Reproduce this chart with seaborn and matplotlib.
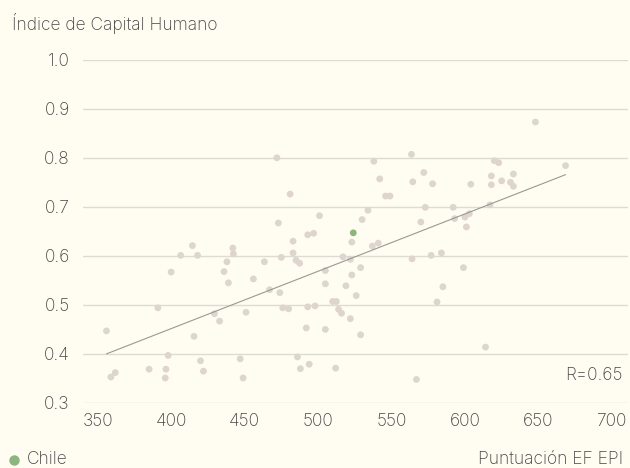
import numpy as np
import pandas as pd
import matplotlib
matplotlib.use("Agg")
import matplotlib.pyplot as plt
from matplotlib.lines import Line2D
import seaborn as sns

# Data (Puntuación EF EPI, Índice de Capital Humano)
epi = [472, 481, 473, 501, 493, 497, 483, 414.5, 442, 406.5,
       418, 442.4, 475, 483, 485, 648, 668.5, 563.6, 538, 620,
       623, 572, 633, 618, 542, 564.5, 578, 604, 618, 625,
       631, 633, 546, 549, 534, 573, 592, 617, 530, 570,
       593, 600, 603, 601, 523, 537, 541, 517, 522, 564,
       577, 584, 356, 359, 362, 385, 391, 396.5, 396, 398,
       400, 415.6, 420, 422, 429.5, 433, 436, 438, 439, 447,
       449, 451, 456, 463.5, 467, 474, 476, 480, 487.5, 486,
       488, 492, 493, 494, 498, 505, 505, 505, 510, 512.5,
       514, 512, 516, 522, 529, 523, 519, 526, 529, 599,
       585, 581, 614, 567]
hci = [0.800, 0.726, 0.667, 0.682, 0.643, 0.646, 0.630, 0.621, 0.616, 0.601,
       0.601, 0.604, 0.597, 0.606, 0.591, 0.873, 0.784, 0.807, 0.793, 0.794,
       0.790, 0.770, 0.767, 0.763, 0.757, 0.751, 0.747, 0.746, 0.745, 0.753,
       0.750, 0.742, 0.722, 0.722, 0.693, 0.699, 0.699, 0.704, 0.674, 0.669,
       0.676, 0.679, 0.686, 0.659, 0.628, 0.620, 0.626, 0.598, 0.593, 0.594,
       0.601, 0.606, 0.447, 0.353, 0.362, 0.369, 0.494, 0.369, 0.351, 0.397,
       0.567, 0.436, 0.386, 0.365, 0.482, 0.467, 0.568, 0.588, 0.545, 0.390,
       0.351, 0.485, 0.553, 0.588, 0.531, 0.525, 0.494, 0.492, 0.585, 0.394,
       0.370, 0.453, 0.496, 0.379, 0.498, 0.450, 0.570, 0.543, 0.507, 0.507,
       0.491, 0.371, 0.483, 0.472, 0.576, 0.561, 0.539, 0.519, 0.439, 0.576,
       0.537, 0.506, 0.414, 0.348]
chile_epi = [524]
chile_hci = [0.647]
chile_label = "Chile"
x_ticks = [350, 400, 450, 500, 550, 600, 650, 700]
y_ticks = [0.3, 0.4, 0.5, 0.6, 0.7, 0.8, 0.9, 1.0]
r_label = "R=0.65"
y_title = "Índice de Capital Humano"
x_title = "Puntuación EF EPI"

BG = "#FFFDF2"
PT = "#DDD5CE"
GREEN = "#8DB67E"
TXT = "#444444"
GRID = "#DEDBD2"
FS = 12.5

sns.set_theme(style="white")
plt.rcParams['font.family'] = ['Inter', 'DejaVu Sans']
plt.rcParams['font.weight'] = 'light'

df = pd.DataFrame({"epi": epi + chile_epi, "hci": hci + chile_hci})
others = pd.DataFrame({"epi": epi, "hci": hci})
chile = pd.DataFrame({"epi": chile_epi, "hci": chile_hci})

fig = plt.figure(figsize=(6.3, 4.68), dpi=100, facecolor=BG)
ax = fig.add_axes([0.1317, 0.1389, 0.8651, 0.7335])
ax.set_facecolor(BG)

for yv in y_ticks:
    ax.axhline(yv, color=GRID, lw=1.0, zorder=0)

sns.scatterplot(data=others, x="epi", y="hci", ax=ax, color=PT, s=24,
                edgecolor="none", linewidth=0, zorder=2)
sns.regplot(data=df, x="epi", y="hci", ax=ax, scatter=False, ci=None,
            truncate=True, line_kws=dict(color="#9A9893", lw=0.8, zorder=3))
sns.scatterplot(data=chile, x="epi", y="hci", ax=ax, color=GREEN, s=24,
                edgecolor="none", linewidth=0, zorder=4)

ax.set_xlim(340, 711)
ax.set_ylim(0.3, 1.0)
ax.set_xticks(x_ticks)
ax.set_yticks(y_ticks)
ax.set_xticklabels([str(v) for v in x_ticks])
ax.set_yticklabels([f"{v:.1f}" for v in y_ticks])
ax.tick_params(axis="both", length=0, labelsize=FS, colors=TXT)
ax.tick_params(axis="y", pad=9.5)
ax.tick_params(axis="x", pad=7.5)
ax.set_xlabel("")
ax.set_ylabel("")
for s in ax.spines.values():
    s.set_visible(False)

ax.text(707.5, 0.357, r_label, ha="right", va="center", fontsize=FS, color=TXT)

fig.text(12 / 630, 1 - 23 / 468, y_title, ha="left", va="center", fontsize=FS, color=TXT)
fig.text(623 / 630, 1 - 459 / 468, x_title, ha="right", va="center", fontsize=FS, color=TXT)
fig.text(27 / 630, 1 - 459 / 468, chile_label, ha="left", va="center", fontsize=FS, color=TXT)
fig.add_artist(Line2D([14.3 / 630], [1 - 459.5 / 468], marker="o", markersize=7.5,
                      color=GREEN, markeredgewidth=0, linestyle="none",
                      transform=fig.transFigure))

fig.savefig("out.png", dpi=100, facecolor=BG)
